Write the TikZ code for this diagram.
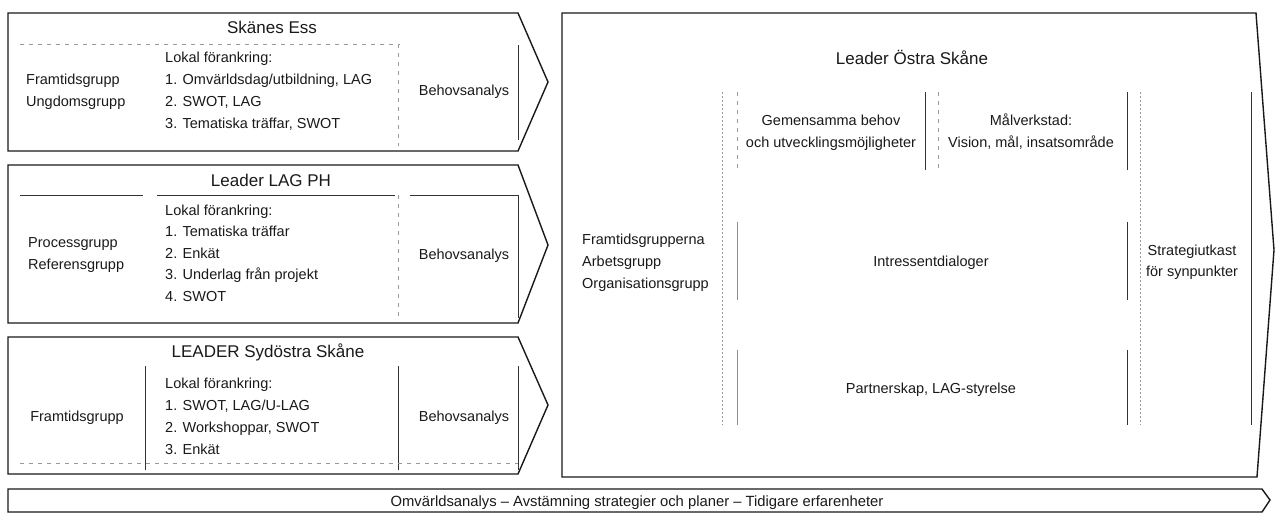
\documentclass[tikz,border=0pt]{standalone}
\usepackage{fontspec}
\setmainfont{Liberation Sans}
\begin{document}
\begin{tikzpicture}[x=1pt,y=-1pt,
  outline/.style={draw=black!90, line width=1.4pt, line join=miter},
  rule/.style={draw=black!80, line width=0.9pt},
  thinrule/.style={draw=black!45, line width=0.6pt},
  faint/.style={draw=black!40, line width=0.6pt, dash pattern=on 4pt off 5pt},
  dotline/.style={draw=black!40, line width=0.6pt, dash pattern=on 1.5pt off 2.5pt},
  txt/.style={font=\fontsize{14.5}{17}\selectfont, text=black!90, inner sep=0pt, text height=10.4pt, text depth=0pt},
  ttl/.style={font=\fontsize{17}{20}\selectfont, text=black!90, inner sep=0pt, text height=12.2pt, text depth=0pt},
  lt/.style={txt, anchor=west},
  ct/.style={txt, anchor=center},
]
\useasboundingbox (0,0) rectangle (1275,515);

% ---------- Box 1: Skänes Ess ----------
\draw[outline] (8,13) -- (518,13) -- (548,82) -- (518,151) -- (8,151) -- cycle;
\node[ttl] (t1) at (272,27) {Skänes Ess};
\draw[faint] (20,44) -- (400,44);
\draw[faint] (398,44) -- (398,146);
\draw[rule] (518,45) -- (518,140);
\node[lt] (a1) at (26,79) {Framtidsgrupp};
\node[lt] (a2) at (26,101) {Ungdomsgrupp};
\node[lt] (b0) at (165,57) {Lokal förankring:};
\node[lt] (b1) at (165,79) {1. Omvärldsdag/utbildning, LAG};
\node[lt] (b2) at (165,101) {2. SWOT, LAG};
\node[lt] (b3) at (165,123) {3. Tematiska träffar, SWOT};
\node[ct] (c1) at (464,90) {Behovsanalys};

% ---------- Box 2: Leader LAG PH ----------
\draw[outline] (8,165) -- (518,165) -- (548,245) -- (518,323) -- (8,323) -- cycle;
\node[ttl] (t2) at (271,180) {Leader LAG PH};
\draw[rule] (20,195) -- (143,195);
\draw[rule] (157,195) -- (395,195);
\draw[rule] (410,195) -- (518,195);
\draw[faint] (398,195) -- (398,318);
\draw[rule] (518,195) -- (518,318);
\node[lt] (d1) at (28,242) {Processgrupp};
\node[lt] (d2) at (28,264) {Referensgrupp};
\node[lt] (e0) at (165,210) {Lokal förankring:};
\node[lt] (e1) at (165,231) {1. Tematiska träffar};
\node[lt] (e2) at (165,253) {2. Enkät};
\node[lt] (e3) at (165,274) {3. Underlag från projekt};
\node[lt] (e4) at (165,296) {4. SWOT};
\node[ct] (c2) at (464,254) {Behovsanalys};

% ---------- Box 3: LEADER Sydöstra Skåne ----------
\draw[outline] (8,337) -- (518,337) -- (548,405) -- (518,474) -- (8,474) -- cycle;
\node[ttl] (t3) at (268,351) {LEADER Sydöstra Skåne};
\draw[rule] (145,366) -- (145,470);
\draw[rule] (398,366) -- (398,470);
\draw[rule] (518,366) -- (518,470);
\draw[faint] (20,463) -- (518,463);
\node[ct] (f1) at (77,416) {Framtidsgrupp};
\node[lt] (g0) at (165,383) {Lokal förankring:};
\node[lt] (g1) at (165,405) {1. SWOT, LAG/U-LAG};
\node[lt] (g2) at (165,427) {2. Workshoppar, SWOT};
\node[lt] (g3) at (165,449) {3. Enkät};
\node[ct] (c3) at (464,416) {Behovsanalys};

% ---------- Big box: Leader Östra Skåne ----------
\draw[outline] (562,13) -- (1256,13) -- (1274,250) -- (1257,477) -- (562,477) -- cycle;
\node[ttl] (t4) at (912,58) {Leader Östra Skåne};
\draw[dotline] (722,92) -- (722,425);
\draw[faint] (737,92) -- (737,170);
\draw[thinrule] (737,222) -- (737,300);
\draw[thinrule] (737,350) -- (737,425);
\draw[rule] (925,92) -- (925,170);
\draw[faint] (938,92) -- (938,170);
\draw[rule] (1127,92) -- (1127,170);
\draw[rule] (1127,222) -- (1127,300);
\draw[rule] (1127,350) -- (1127,425);
\draw[dotline] (1140,92) -- (1140,425);
\draw[rule] (1251,92) -- (1251,425);
\node[ct] (h1) at (831,120) {Gemensamma behov};
\node[ct] (h2) at (831,142) {och utvecklingsmöjligheter};
\node[ct] (i1) at (1031,120) {Målverkstad:};
\node[ct] (i2) at (1031,142) {Vision, mål, insatsområde};
\node[lt] (j1) at (582,239) {Framtidsgrupperna};
\node[lt] (j2) at (582,261) {Arbetsgrupp};
\node[lt] (j3) at (582,283) {Organisationsgrupp};
\node[ct] (k1) at (931,261) {Intressentdialoger};
\node[ct] (k2) at (931,388) {Partnerskap, LAG-styrelse};
\node[ct] (l1) at (1192,250) {Strategiutkast};
\node[ct] (l2) at (1192,271) {för synpunkter};

% ---------- Bottom bar ----------
\draw[outline] (8,489) -- (1262,489) -- (1270,500) -- (1262,512) -- (8,512) -- cycle;
\node[txt, font=\fontsize{14.8}{17}\selectfont, text height=10.6pt] (m1) at (637,501) {Omvärldsanalys – Avstämning strategier och planer – Tidigare erfarenheter};
\end{tikzpicture}
\end{document}
